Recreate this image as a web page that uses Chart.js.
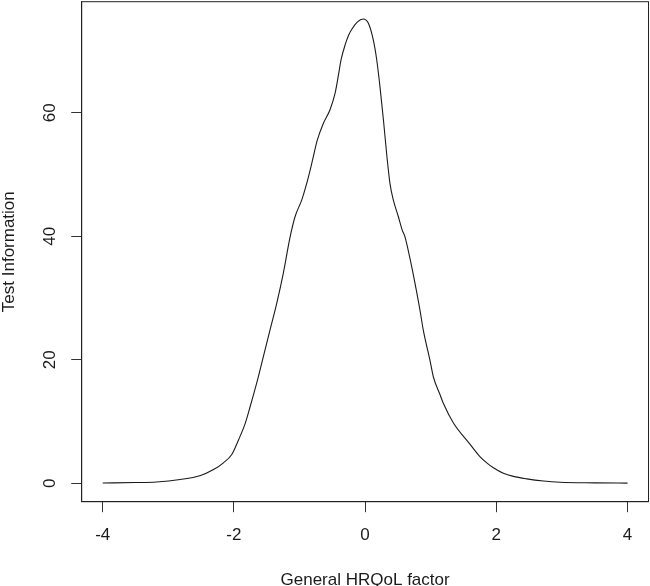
<!DOCTYPE html>
<html>
<head>
<meta charset="utf-8">
<script src="https://cdn.jsdelivr.net/npm/chart.js@4/dist/chart.umd.min.js"></script>
<style>
  html, body { margin: 0; padding: 0; background: #fff; }
  #wrap { width: 650px; height: 586px; }
</style>
</head>
<body>
<div id="wrap"><canvas id="c" width="650" height="586"></canvas></div>
<script>
// theta values (General HRQoL factor)
const theta = [
  -4.0, -3.5, -3.18, -2.82, -2.52, -2.31, -2.16, -2.03, -1.93, -1.83,
  -1.755, -1.653, -1.551, -1.45, -1.348, -1.247, -1.143, -1.067, -0.965, -0.889,
  -0.813, -0.728, -0.636, -0.535, -0.457, -0.41, -0.366, -0.305, -0.25, -0.205,
  -0.12, -0.03, 0.05, 0.125, 0.177, 0.227, 0.28, 0.33, 0.38, 0.43,
  0.506, 0.566, 0.608, 0.684, 0.76, 0.837, 0.887, 0.989, 1.041, 1.14,
  1.194, 1.344, 1.6, 1.75, 1.854, 1.956, 2.108, 2.26, 2.464, 2.72,
  2.972, 3.5, 4.0
];
// test information at each theta
const information = [
  0.02, 0.1, 0.2, 0.6, 1.2, 2.2, 3.3, 4.7, 7.0, 9.6,
  12.3, 16.2, 20.5, 24.8, 29.1, 34.0, 39.9, 43.2, 45.9, 48.6,
  51.8, 55.6, 58.3, 60.5, 63.2, 65.9, 68.6, 71.0, 72.6, 73.5,
  74.7, 75.2, 74.5, 71.8, 68.6, 64.2, 58.8, 53.2, 48.5, 45.9,
  43.2, 41.0, 39.9, 36.4, 32.4, 28.0, 24.8, 19.9, 17.2, 14.4,
  12.9, 9.8, 6.3, 4.3, 3.3, 2.5, 1.6, 1.1, 0.7, 0.35,
  0.15, 0.05, 0.01
];
const xTicks = [-4, -2, 0, 2, 4];
const yTicks = [0, 20, 40, 60];

const ink = '#1a1a1a';
const font = { family: '"Liberation Sans", Arial, sans-serif', size: 17 };

// R style box around the plot region
const boxPlugin = {
  id: 'box',
  afterDraw(chart) {
    const { ctx, chartArea: a } = chart;
    ctx.save();
    ctx.strokeStyle = '#222';
    ctx.lineWidth = 1;
    ctx.strokeRect(a.left, a.top, a.right - a.left, a.bottom - a.top);
    ctx.restore();
  }
};

const points = theta.map((t, i) => ({ x: t, y: information[i] }));

new Chart(document.getElementById('c'), {
  type: 'line',
  data: {
    datasets: [{
      data: points,
      borderColor: ink,
      borderWidth: 1.1,
      pointRadius: 0,
      fill: false,
      cubicInterpolationMode: 'monotone'
    }]
  },
  options: {
    responsive: false,
    animation: false,
    layout: { padding: { top: 1.7, right: 1.5, left: 0, bottom: 0 } },
    plugins: { legend: { display: false }, tooltip: { enabled: false } },
    scales: {
      x: {
        type: 'linear',
        min: -4.32,
        max: 4.32,
        afterBuildTicks: s => { s.ticks = xTicks.map(v => ({ value: v })); },
        afterFit: s => { s.height = 84.3; s.paddingLeft = 0; s.paddingRight = 0; },
        grid: { drawOnChartArea: false, tickLength: 10.5, color: '#333' },
        border: { display: true, color: '#222', width: 1 },
        ticks: { color: ink, font: font, padding: 13.4, maxRotation: 0 },
        title: {
          display: true,
          text: 'General HRQoL factor',
          color: ink,
          font: font,
          padding: { top: 0, bottom: -4.6 }
        }
      },
      y: {
        type: 'linear',
        min: -3,
        max: 78,
        afterBuildTicks: s => { s.ticks = yTicks.map(v => ({ value: v })); },
        afterFit: s => { s.width = 81.7; s.paddingTop = 0; s.paddingBottom = 0; },
        grid: { drawOnChartArea: false, tickLength: 10.5, color: '#333' },
        border: { display: true, color: '#222', width: 1 },
        ticks: {
          color: ink,
          font: font,
          padding: 11.4,
          minRotation: 90,
          maxRotation: 90,
          crossAlign: 'center'
        },
        title: {
          display: true,
          text: 'Test Information',
          color: ink,
          font: font,
          padding: { top: -1.1, bottom: 0 }
        }
      }
    }
  },
  plugins: [boxPlugin]
});
</script>
</body>
</html>
